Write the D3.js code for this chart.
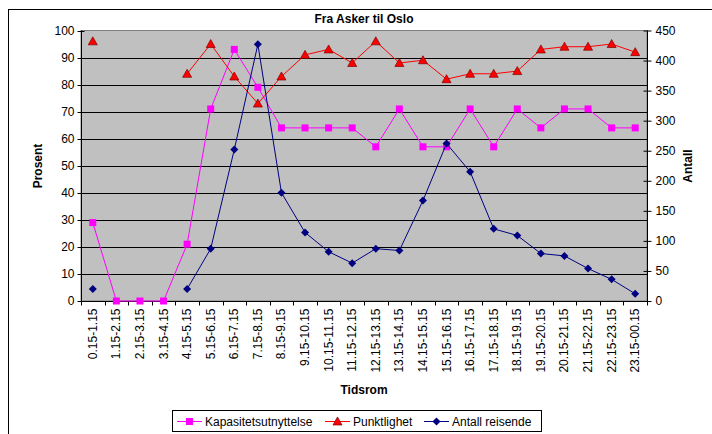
<!DOCTYPE html>
<html><head><meta charset="utf-8">
<script src="https://cdn.jsdelivr.net/npm/d3@7"></script>
<style>body{margin:0;background:#fff}svg{display:block;font-family:Arial,"Liberation Sans",sans-serif}</style>
</head><body><svg id="c" width="712" height="434"></svg>
<script>
const categories = ["0.15-1.15","1.15-2.15","2.15-3.15","3.15-4.15","4.15-5.15","5.15-6.15","6.15-7.15","7.15-8.15","8.15-9.15","9.15-10.15","10.15-11.15","11.15-12.15","12.15-13.15","13.15-14.15","14.15-15.15","15.15-16.15","16.15-17.15","17.15-18.15","18.15-19.15","19.15-20.15","20.15-21.15","21.15-22.15","22.15-23.15","23.15-00.15"];
const kapasitet = [29,0,0,0,21,71,93,79,64,64,64,64,57,71,57,57,71,57,71,64,71,71,64,64];
const punktlighet = [96,null,null,null,84,95,83,73,83,91,93,88,96,88,89,82,84,84,85,93,94,94,95,92];
const antall = [20,null,null,null,20,87,252,427,180,114,82,63,87,84,167,262,215,120,109,79,75,54,36,12];
const leftTicks = [0,10,20,30,40,50,60,70,80,90,100];
const rightTicks = [0,50,100,150,200,250,300,350,400,450];

const svg = d3.select("#c");
const L = 81, R = 647, T = 30.5, B = 301;
// outer border
svg.append("rect").attr("x",8.5).attr("y",9.5).attr("width",800).attr("height",500).attr("fill","none").attr("stroke","#000");

const x = d3.scaleBand().domain(categories).range([L,R]);
const yL = d3.scaleLinear().domain([0,100]).range([B,T]);
const yR = d3.scaleLinear().domain([0,450]).range([B,T]);

svg.append("rect").attr("x",L).attr("y",T).attr("width",R-L).attr("height",B-T).attr("fill","#C0C0C0").attr("stroke","#808080");
// gridlines
svg.append("g").selectAll("line").data(leftTicks.filter(d=>d>0&&d<100)).join("line")
  .attr("x1",L).attr("x2",R).attr("y1",d=>Math.round(yL(d))+0.5).attr("y2",d=>Math.round(yL(d))+0.5).attr("stroke","#000");

// left axis
const gl = svg.append("g").attr("transform",`translate(${L+0.5},0)`)
  .call(d3.axisLeft(yL).tickValues(leftTicks).tickSize(4).tickPadding(3));
gl.selectAll(".tick line").attr("x2",-4).attr("x1",3);
gl.select(".domain").attr("d",`M0,${T}V${B}`);
gl.selectAll("text").attr("font-size",12).attr("font-family","Arial, Liberation Sans, sans-serif");
gl.selectAll(".tick").attr("transform",d=>`translate(0,${Math.round(yL(d))+0.5})`);

// right axis
const gr = svg.append("g").attr("transform",`translate(${R+0.5},0)`)
  .call(d3.axisRight(yR).tickValues(rightTicks).tickSize(4).tickPadding(4));
gr.selectAll(".tick line").attr("x1",-4).attr("x2",4);
gr.select(".domain").attr("d",`M0,${T}V${B}`);
gr.selectAll("text").attr("font-size",12).attr("font-family","Arial, Liberation Sans, sans-serif");

// bottom axis
const gb = svg.append("g").attr("transform",`translate(0,${B+0.5})`);
gb.append("line").attr("x1",L).attr("x2",R+4).attr("stroke","#000");
gb.selectAll("line.t").data(d3.range(categories.length+1)).join("line").attr("class","t")
  .attr("x1",i=>Math.round(L+i*x.step())+0.5).attr("x2",i=>Math.round(L+i*x.step())+0.5).attr("y1",0).attr("y2",4).attr("stroke","#000");
gb.selectAll("text").data(categories).join("text")
  .attr("transform",d=>`translate(${x(d)+x.bandwidth()/2+4},7) rotate(-90)`)
  .attr("text-anchor","end").attr("font-size",12).text(d=>d);

// titles
svg.append("text").attr("x",364).attr("y",23).attr("text-anchor","middle").attr("font-weight","bold").attr("font-size",12).text("Fra Asker til Oslo");
svg.append("text").attr("transform","translate(42,166) rotate(-90)").attr("text-anchor","middle").attr("font-weight","bold").attr("font-size",12).text("Prosent");
svg.append("text").attr("transform","translate(692,166) rotate(-90)").attr("text-anchor","middle").attr("font-weight","bold").attr("font-size",12).text("Antall");
svg.append("text").attr("x",364).attr("y",394).attr("text-anchor","middle").attr("font-weight","bold").attr("font-size",12).text("Tidsrom");

const cx = (d,i)=>x(categories[i])+x.bandwidth()/2;
function drawSeries(data, y, color, shape){
  const line = d3.line().defined(d=>d!=null).x((d,i)=>cx(d,i)).y(d=>y(d));
  svg.append("path").datum(data).attr("d",line).attr("fill","none").attr("stroke",color).attr("stroke-width",1);
  const pts = data.map((d,i)=>({d,i})).filter(p=>p.d!=null);
  const g = svg.append("g");
  pts.forEach(p=>{ shape(g, cx(p.d,p.i), y(p.d)); });
}
const square = (g,X,Y)=>g.append("rect").attr("x",X-3.5).attr("y",Y-3.5).attr("width",7).attr("height",7).attr("fill","#FF00FF");
const tri = (g,X,Y)=>g.append("path").attr("d",`M${X},${Y-4.5}L${X+4.5},${Y+3.5}L${X-4.5},${Y+3.5}Z`).attr("fill","#FF0000").attr("stroke","#800000").attr("stroke-width",0.7);
const diamond = (g,X,Y)=>g.append("path").attr("d",`M${X},${Y-4}L${X+4},${Y}L${X},${Y+4}L${X-4},${Y}Z`).attr("fill","#000080");

drawSeries(kapasitet, yL, "#FF00FF", square);
drawSeries(punktlighet, yL, "#FF0000", tri);
drawSeries(antall, yR, "#000080", diamond);

// legend
const lg = svg.append("g");
lg.append("rect").attr("x",172.5).attr("y",410.5).attr("width",369).attr("height",21).attr("fill","#fff").attr("stroke","#000");
const items = [
  {name:"Kapasitetsutnyttelse", color:"#FF00FF", shape:square, x:177},
  {name:"Punktlighet", color:"#FF0000", shape:tri, x:325},
  {name:"Antall reisende", color:"#000080", shape:diamond, x:424}
];
items.forEach(it=>{
  lg.append("line").attr("x1",it.x).attr("x2",it.x+25).attr("y1",421.5).attr("y2",421.5).attr("stroke",it.color);
  it.shape(lg, it.x+12.5, 421.5);
  lg.append("text").attr("x",it.x+28).attr("y",425.5).attr("font-size",12).text(it.name);
});
</script></body></html>
